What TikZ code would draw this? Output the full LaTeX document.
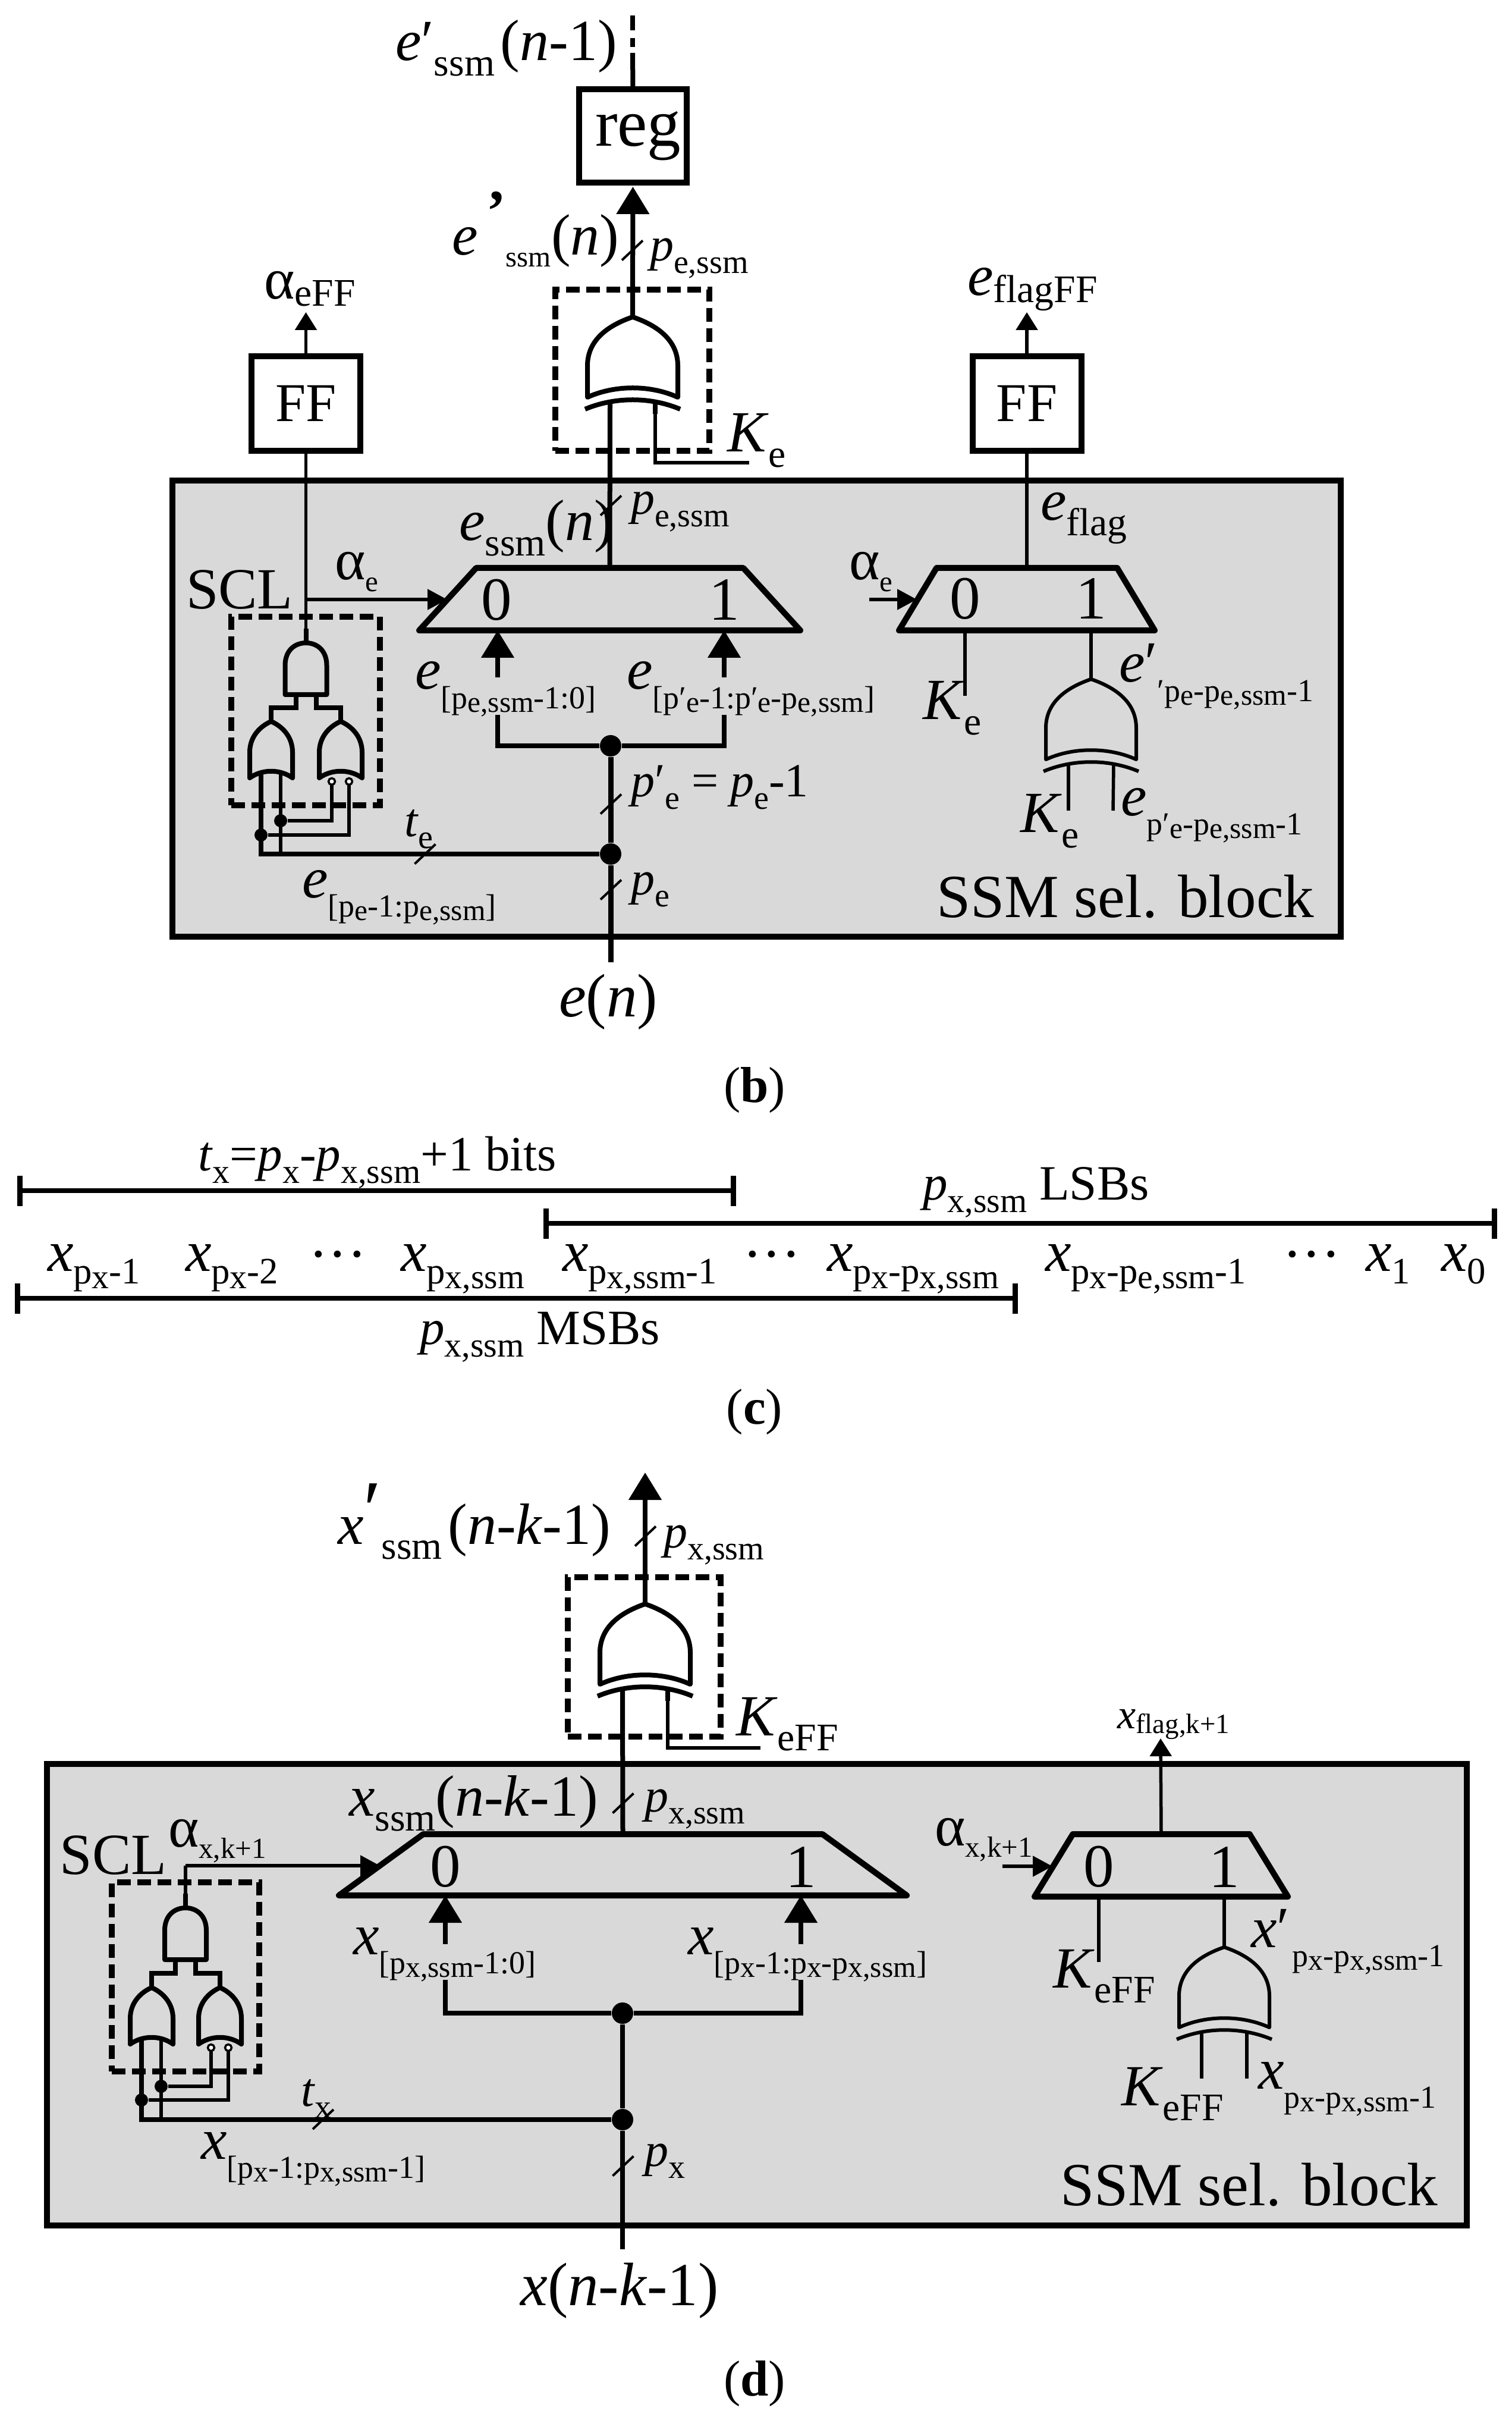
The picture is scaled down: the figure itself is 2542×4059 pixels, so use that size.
\documentclass[tikz,border=0pt]{standalone}
\usepackage{fontspec}
\setmainfont{Liberation Serif}
\usetikzlibrary{arrows.meta, shapes.geometric}
\definecolor{blockgray}{HTML}{D9D9D9}
\newcommand{\dn}[1]{\raisebox{-.26em}{\scalebox{.67}{#1}}}
\newcommand{\dq}[1]{\raisebox{-.26em}{\scalebox{.7}{#1}}}
\newcommand{\dni}[1]{\raisebox{-.12em}{\scalebox{.67}{#1}}}
\newcommand{\dnk}[1]{\raisebox{-.2em}{\scalebox{.5}{#1}}}
\newcommand{\dns}[1]{\raisebox{-.33em}{\scalebox{.55}{#1}}}
\newcommand{\dnc}[1]{\raisebox{-.22em}{\scalebox{.64}{#1}}}
\newcommand{\dnn}[1]{\raisebox{-.12em}{\scalebox{.92}{#1}}}
\newcommand{\bigfont}{\fontsize{20.6pt}{24pt}\selectfont}
\newcommand{\midfont}{\fontsize{19.6pt}{22pt}\selectfont}
\newcommand{\lowfont}{\fontsize{16pt}{20pt}\selectfont}

\begin{document}
\begin{tikzpicture}[
  x=0.2pt, y=-0.2pt,
  lab/.style={anchor=base west, inner sep=0pt, font=\midfont},
  plab/.style={anchor=base west, inner sep=0pt, font=\lowfont},
  clab/.style={anchor=base west, inner sep=0pt, font=\fontsize{16.6pt}{20pt}\selectfont},
  biglab/.style={anchor=base west, inner sep=0pt, font=\bigfont},
  caption/.style={inner sep=0pt, font=\fontsize{17pt}{20pt}\selectfont},
  digit/.style={inner sep=0pt, font=\bigfont},
  ssmblock/.style={draw, fill=blockgray, line width=2pt, inner sep=0pt, outer sep=0pt},
  regbox/.style={draw, line width=2pt, inner sep=0pt, outer sep=0pt},
  dashbox/.style={draw, line width=2pt, inner sep=0pt, outer sep=0pt, dash pattern=on 4.6pt off 2.2pt},
  mux/.style={draw, trapezium, trapezium stretches body=true, line width=2pt, line join=round, inner xsep=1pt, inner ysep=0pt, outer sep=0pt},
  dotn/.style={circle, fill, inner sep=0pt, minimum size=7.2pt},
  dots/.style={circle, fill, inner sep=0pt, minimum size=4.4pt},
  heavy/.style={line width=1.8pt},
  bus/.style={line width=1.6pt},
  wire/.style={line width=1.1pt},
  bigtip/.style={-{Triangle[length=9.2pt, width=10.8pt]}},
  midtip/.style={-{Triangle[length=6.6pt, width=6.8pt]}},
  lowtip/.style={-{Triangle[length=6pt, width=7.2pt]}},
  barline/.style={line width=1.6pt, {Bar[width=10.2pt, line width=1.8pt]}-{Bar[width=10.2pt, line width=1.8pt]}},
  bustick/.pic={\draw[line width=0.8pt] (-17.5,16.5) -- (17.5,-16.5);},
  xorgate/.pic={
    \draw[line join=round] (-76,135) -- (-76,82) .. controls (-76,35) and (-35,12) .. (0,0)
      .. controls (35,12) and (76,35) .. (76,82) -- (76,135)
      .. controls (30,114) and (-30,114) .. cycle;
    \draw (-80,155) .. controls (-30,134) and (30,134) .. (80,155);
    \coordinate (-out) at (0,0);
    \coordinate (-in1) at (-38,143);
    \coordinate (-in2) at (38,143);
  },
  orgate/.pic={
    \draw[line join=round] (-36,95) -- (-36,52) .. controls (-36,25) and (-18,8) .. (0,0)
      .. controls (18,8) and (36,25) .. (36,52) -- (36,95)
      .. controls (15,80) and (-15,80) .. cycle;
    \coordinate (-out) at (0,0);
    \coordinate (-in1) at (-17,88);
    \coordinate (-in2) at (16,88);
  },
  norgate/.pic={
    \draw[line join=round] (-36,95) -- (-36,52) .. controls (-36,25) and (-18,8) .. (0,0)
      .. controls (18,8) and (36,25) .. (36,52) -- (36,95)
      .. controls (15,80) and (-15,80) .. cycle;
    \draw[fill=white, line width=0.7pt] (-15,101) circle [radius=1.1pt];
    \draw[fill=white, line width=0.7pt] (14,101) circle [radius=1.1pt];
    \coordinate (-out) at (0,0);
    \coordinate (-in1) at (-15,107);
    \coordinate (-in2) at (14,107);
  },
  andgate/.pic={
    \draw[line join=round] (-35,87) -- (-35,38) .. controls (-35,12) and (-18,0) .. (0,0)
      .. controls (18,0) and (35,12) .. (35,38) -- (35,87) -- cycle;
    \draw (0,0) -- (0,-24);
    \coordinate (-out) at (0,-24);
    \coordinate (-in1) at (-17,87);
    \coordinate (-in2) at (17,87);
  }]
  \useasboundingbox (0,0) rectangle (2542,4059);

  % Block of panel (b)
  \node[ssmblock, minimum width=393pt, minimum height=153.4pt] (ssmb) at (1272.5,1191.5) {};
  \node[regbox, font=\fontsize{22.6pt}{26pt}\selectfont, minimum width=36.2pt, minimum height=31.4pt] (regb) at (1064.5,228.5) {\hspace*{3.5pt}reg};
  \node[regbox, font=\fontsize{18.4pt}{22pt}\selectfont, minimum width=36.6pt, minimum height=31.8pt] (ffb1) at (514.5,678.5) {FF};
  \node[regbox, font=\fontsize{18.4pt}{22pt}\selectfont, minimum width=36.6pt, minimum height=31.8pt] (ffb2) at (1727,678.5) {FF};
  \node[dashbox, minimum width=51.8pt, minimum height=54.2pt] (dashb) at (1063.5,622.5) {};
  \node[dashbox, minimum width=50pt, minimum height=63.4pt] (sclb) at (514,1195.5) {};
  \node[mux, trapezium left angle=47.6, trapezium right angle=47.6, minimum width=128.2pt] (mxb1) at (1025.5,1007.5) {\rule{0pt}{21pt}};
  \node[mux, trapezium left angle=59, trapezium right angle=59, minimum width=86pt] (mxb2) at (1727,1007.5) {\rule{0pt}{21pt}};
  \node[digit] (b0) at (835,1009) {0};
  \node[digit] (b1) at (1218,1009) {1};
  \node[digit] (b2) at (1623,1007) {0};
  \node[digit] (b3) at (1835,1007) {1};
  \node[dotn] (jb1) at (1027,1254) {};
  \node[dotn] (jb2) at (1027,1436) {};

  % Gates of panel (b)
  \pic[line width=1.6pt] (xb) at (1064,533) {xorgate};
  \pic[line width=1.2pt] (xc) at (1835,1142) {xorgate};
  \pic[line width=1.6pt] (ab) at (514.5,1081) {andgate};
  \pic[line width=1.6pt] (ob1) at (456,1213) {orgate};
  \pic[line width=1.6pt] (ob2) at (573,1213) {norgate};

  % Connectors of panel (b)
  \coordinate (sb1) at (1064,89);
  \coordinate (sb2) at (1064,26);
  \coordinate (kb) at (1260,778);
  \coordinate (tb1) at (514.5,525);
  \coordinate (tb2) at (1727,525);
  \coordinate (ab1) at (514.5,1008);
  \coordinate (ab2) at (752,1008);
  \coordinate (ac1) at (1462,1008);
  \coordinate (ac2) at (1542,1008);
  \coordinate (gb1) at (837,1202);
  \coordinate (gb2) at (837,1139);
  \coordinate (gb3) at (1218,1202);
  \coordinate (gb4) at (1218,1139);
  \coordinate (ib) at (1027,1618);
  \coordinate (kc1) at (1623,1170);
  \coordinate (kc2) at (1797,1363);
  \coordinate (kc3) at (1872,1363);
  \draw[bus] (regb.north) -- (sb1);
  \draw[bus, dash pattern=on 5pt off 2.6pt on 3pt off 2pt] (sb2) -- (sb1);
  \draw[bus, bigtip, shorten >=1.4pt] (xb-out) -- (regb.south);
  \draw[bus] (xb-in1) -- (mxb1.north);
  \draw[bus] (xb-in2) -- ++(0,20);
  \draw[wire] (xb-in2) |- (kb);
  \draw[wire, lowtip] (ffb1.north) -- (tb1);
  \draw[wire, lowtip] (ffb2.north) -- (tb2);
  \draw[wire] (ffb1.south) -- (ab-out);
  \draw[wire] (ffb2.south) -- (mxb2.north);
  \draw[wire, midtip] (ab1) -- (ab2);
  \draw[wire, midtip] (ac1) -- (ac2);
  \draw[bus] (jb1) -| (gb1);
  \draw[bus] (jb1) -| (gb3);
  \draw[bus, bigtip] (gb2) -- (gb2 |- mxb1.south);
  \draw[bus, bigtip] (gb4) -- (gb4 |- mxb1.south);
  \draw[heavy] (ib) -- (jb2) -- (jb1);
  \draw[bus] (jb2) -| (ob1-in1);
  \draw[wire] (ob1-in2) -- (ob1-in2 |- jb2);
  \draw[bus] (ab-in1) -- ++(0,22) -| (ob1-out);
  \draw[bus] (ab-in2) -- ++(0,22) -| (ob2-out);
  \node[dots] (db1) at (ob1-in2 |- 0,1380) {};
  \node[dots] (db2) at (ob1-in1 |- 0,1404) {};
  \draw[wire] (ob2-in1) |- (db1);
  \draw[wire] (ob2-in2) |- (db2);
  \draw[wire] (b2 |- mxb2.south) -- (kc1);
  \draw[wire] (xc-out) -- (b3 |- mxb2.south);
  \draw[wire] (xc-in1) -- (kc2);
  \draw[wire] (xc-in2) -- (kc3);
  \pic at (1063.5,421) {bustick};
  \pic at (1027.5,850) {bustick};
  \pic at (1027.5,1352) {bustick};
  \pic at (1027.5,1496) {bustick};
  \pic at (715,1436) {bustick};

  % Labels of panel (b)
  \node[lab] (lb1) at (664,102) {\textit{e}′\dn{ssm}\hspace{.1em}(\textit{n}-1)};
  \node[lab] (lb2) at (759,429) {\textit{e}\hspace{.15em}\raisebox{.42em}{\textbf{’}}\dnk{ssm}(\textit{n})};
  \node[plab] (lb3) at (1092,439) {\textit{p}\dq{e,ssm}};
  \node[lab] (lb4) at (443,503) {α\dni{eFF}};
  \node[lab] (lb5) at (1626,497) {\textit{e}\dni{flagFF}};
  \node[lab] (lb6) at (1222,760) {\textit{K}\dn{e}};
  \node[lab] (lb7) at (312,1024) {SCL};
  \node[lab] (lb8) at (562,975) {α\dnk{e}};
  \node[lab] (lb9) at (771,909) {\textit{e}\dn{ssm}(\textit{n})};
  \node[plab] (lb10) at (1060,865) {\textit{p}\dq{e,ssm}};
  \node[lab] (lb11) at (1749,875) {\textit{e}\dn{flag}};
  \node[lab] (lb12) at (1427,975) {α\dnk{e}};
  \node[lab] (lb13) at (697,1159) {\textit{e}\dns{[p\dnn{e,ssm}-1:0]}};
  \node[lab] (lb14) at (1053,1159) {\textit{e}\dns{[p′\dnn{e}-1:p′\dnn{e}-p\dnn{e,ssm}]}};
  \node[plab] (lb15) at (1060,1340) {\textit{p}′\dq{e} = \textit{p}\dq{e}-1};
  \node[plab] (lb16) at (679,1406) {\textit{t}\dq{e}};
  \node[lab] (lb17) at (507,1509) {\textit{e}\dns{[p\dnn{e}-1:p\dnn{e,ssm}]}};
  \node[plab] (lb18) at (1060,1504) {\textit{p}\dq{e}};
  \node[lab] (lb19) at (1551,1210) {\textit{K}\dn{e}};
  \node[lab] (lb20) at (1881,1147) {\textit{e}′\dns{′p\dnn{e}-p\dnn{e,ssm}-1}};
  \node[lab] (lb21) at (1715,1400) {\textit{K}\dn{e}};
  \node[lab] (lb22) at (1884,1371) {\textit{e}\dns{p′\dnn{e}-p\dnn{e,ssm}-1}};
  \node[biglab] (lb23) at (1574,1542) {SSM sel. block};
  \node[biglab, anchor=base] (lb24) at (1023,1709) {\textit{e}(\textit{n})};
  \node[caption] (capb) at (1269,1833) {(\textbf{b})};

  % Bit fields of panel (c)
  \coordinate (c1a) at (29,2002);
  \coordinate (c1b) at (1238,2002);
  \coordinate (c2a) at (914,2057);
  \coordinate (c2b) at (2518,2057);
  \coordinate (c3a) at (25,2183);
  \coordinate (c3b) at (1712,2183);
  \draw[barline] (c1a) -- (c1b);
  \draw[barline] (c2a) -- (c2b);
  \draw[barline] (c3a) -- (c3b);
  \node[clab] (lc1) at (332,1968) {\textit{t}\dq{x}=\textit{p}\dq{x}-\textit{p}\dq{x,ssm}+1 bits};
  \node[clab] (lc2) at (1551,2017) {\textit{p}\dq{x,ssm} LSBs};
  \node[lab] (lc3) at (79,2137) {\textit{x}\dnc{p\dnn{x}-1}};
  \node[lab] (lc4) at (311,2137) {\textit{x}\dnc{p\dnn{x}-2}};
  \node[lab, anchor=center] (lc5) at (568,2122) {···};
  \node[lab] (lc6) at (673,2137) {\textit{x}\dnc{p\dnn{x,ssm}}};
  \node[lab] (lc7) at (945,2137) {\textit{x}\dnc{p\dnn{x,ssm}-1}};
  \node[lab, anchor=center] (lc8) at (1298,2122) {···};
  \node[lab] (lc9) at (1390,2137) {\textit{x}\dnc{p\dnn{x}-p\dnn{x,ssm}}};
  \node[lab] (lc10) at (1757,2137) {\textit{x}\dnc{p\dnn{x}-p\dnn{e,ssm}-1}};
  \node[lab, anchor=center] (lc11) at (2206,2122) {···};
  \node[lab] (lc12) at (2296,2137) {\textit{x}\dnc{1}};
  \node[lab] (lc13) at (2423,2137) {\textit{x}\dnc{0}};
  \node[clab] (lc14) at (705,2260) {\textit{p}\dq{x,ssm} MSBs};
  \node[caption] (capc) at (1269,2374) {(\textbf{c})};

  % Block of panel (d)
  \node[ssmblock, minimum width=477.6pt, minimum height=155.2pt] (ssmd) at (1273,3354) {};
  \node[dashbox, minimum width=51.4pt, minimum height=53.6pt] (dashd) at (1083.5,2786) {};
  \node[dashbox, minimum width=49.6pt, minimum height=63.6pt] (scld) at (312,3324) {};
  \node[mux, trapezium left angle=36, trapezium right angle=36, minimum width=191pt] (mxd1) at (1047.5,3135.5) {\rule{0pt}{20.6pt}};
  \node[mux, trapezium left angle=58.5, trapezium right angle=58.5, minimum width=85.2pt] (mxd2) at (1953,3136.5) {\rule{0pt}{21pt}};
  \node[digit] (d0) at (749,3139) {0};
  \node[digit] (d1) at (1347,3139) {1};
  \node[digit] (d2) at (1848,3139) {0};
  \node[digit] (d3) at (2059,3139) {1};
  \node[dotn] (jd1) at (1047,3385) {};
  \node[dotn] (jd2) at (1047,3564) {};

  % Gates of panel (d)
  \pic[line width=1.6pt] (xd) at (1085,2697) {xorgate};
  \pic[line width=1.2pt] (xe) at (2059,3274) {xorgate};
  \pic[line width=1.6pt] (ad) at (312,3208) {andgate};
  \pic[line width=1.6pt] (od1) at (255,3342) {orgate};
  \pic[line width=1.6pt] (od2) at (370,3342) {norgate};

  % Connectors of panel (d)
  \coordinate (td) at (1085,2476);
  \coordinate (kd) at (1279,2939);
  \coordinate (te) at (1952,2923);
  \coordinate (ad1) at (312,3137);
  \coordinate (ad2) at (639,3137);
  \coordinate (ae1) at (1686,3138);
  \coordinate (ae2) at (1770,3138);
  \coordinate (gd1) at (749,3329);
  \coordinate (gd2) at (749,3269);
  \coordinate (gd3) at (1347,3329);
  \coordinate (gd4) at (1347,3269);
  \coordinate (id) at (1047,3782);
  \coordinate (ke1) at (1848,3299);
  \coordinate (ke2) at (2021,3495);
  \coordinate (ke3) at (2097,3495);
  \draw[bus, bigtip] (xd-out) -- (td);
  \draw[bus] (xd-in1) -- (mxd1.north);
  \draw[bus] (xd-in2) -- ++(0,20);
  \draw[wire] (xd-in2) |- (kd);
  \draw[wire, lowtip] (mxd2.north) -- (te);
  \draw[wire] (ad-out) |- (ad1);
  \draw[wire, midtip] (ad1) -- (ad2);
  \draw[wire, midtip] (ae1) -- (ae2);
  \draw[bus] (jd1) -| (gd1);
  \draw[bus] (jd1) -| (gd3);
  \draw[bus, bigtip] (gd2) -- (gd2 |- mxd1.south);
  \draw[bus, bigtip] (gd4) -- (gd4 |- mxd1.south);
  \draw[bus] (id) -- (jd2) -- (jd1);
  \draw[bus] (jd2) -| (od1-in1);
  \draw[wire] (od1-in2) -- (od1-in2 |- jd2);
  \draw[bus] (ad-in1) -- ++(0,23) -| (od1-out);
  \draw[bus] (ad-in2) -- ++(0,23) -| (od2-out);
  \node[dots] (dd1) at (od1-in2 |- 0,3508) {};
  \node[dots] (dd2) at (od1-in1 |- 0,3531) {};
  \draw[wire] (od2-in1) |- (dd1);
  \draw[wire] (od2-in2) |- (dd2);
  \draw[wire] (d2 |- mxd2.south) -- (ke1);
  \draw[wire] (xe-out) -- (d3 |- mxd2.south);
  \draw[wire] (xe-in1) -- (ke2);
  \draw[wire] (xe-in2) -- (ke3);
  \pic at (1085.5,2583) {bustick};
  \pic at (1048,3032) {bustick};
  \pic at (1048,3642) {bustick};
  \pic at (543.5,3563.5) {bustick};

  % Labels of panel (d)
  \node[lab] (ld1) at (567,2596) {\textit{x}\raisebox{.12em}{\scalebox{1.4}{′}}\dn{ssm}\hspace{.1em}(\textit{n}-\textit{k}-1)};
  \node[plab] (ld2) at (1115,2602) {\textit{p}\dq{x,ssm}};
  \node[lab] (ld3) at (1237,2918) {\textit{K}\dn{eFF}};
  \node[lab] (ld4) at (586,3053) {\textit{x}\dn{ssm}(\textit{n}-\textit{k}-1)};
  \node[plab] (ld5) at (1083,3046) {\textit{p}\dq{x,ssm}};
  \node[lab] (ld6) at (100,3151) {SCL};
  \node[lab] (ld7) at (282,3105) {α\dnk{x,k+1}};
  \node[lab] (ld8) at (593,3286) {\textit{x}\dns{[p\dnn{x,ssm}-1:0]}};
  \node[lab] (ld9) at (1156,3286) {\textit{x}\dns{[p\dnn{x}-1:p\dnn{x}-p\dnn{x,ssm}]}};
  \node[plab] (ld10) at (505,3541) {\textit{t}\dq{x}};
  \node[lab] (ld11) at (337,3630) {\textit{x}\dns{[p\dnn{x}-1:p\dnn{x,ssm}-1]}};
  \node[plab] (ld12) at (1083,3642) {\textit{p}\dq{x}};
  \node[anchor=base west, inner sep=0pt, font=\fontsize{14pt}{16pt}\selectfont] (ld13) at (1878,2906) {\textit{x}\dni{flag,k+1}};
  \node[lab] (ld14) at (1571,3103) {α\dnk{x,k+1}};
  \node[lab] (ld15) at (1770,3342) {\textit{K}\dn{eFF}};
  \node[lab] (ld16) at (2103,3274) {\textit{x}′\hspace{.05em}\dns{p\dnn{x}-p\dnn{x,ssm}-1}};
  \node[lab] (ld17) at (1885,3540) {\textit{K}\dn{eFF}};
  \node[lab] (ld18) at (2115,3512) {\textit{x}\dns{p\dnn{x}-p\dnn{x,ssm}-1}};
  \node[biglab] (ld19) at (1782,3708) {SSM sel. block};
  \node[biglab, anchor=base] (ld20) at (1042,3876) {\textit{x}(\textit{n}-\textit{k}-1)};
  \node[caption] (capd) at (1269,4008) {(\textbf{d})};
\end{tikzpicture}
\end{document}
